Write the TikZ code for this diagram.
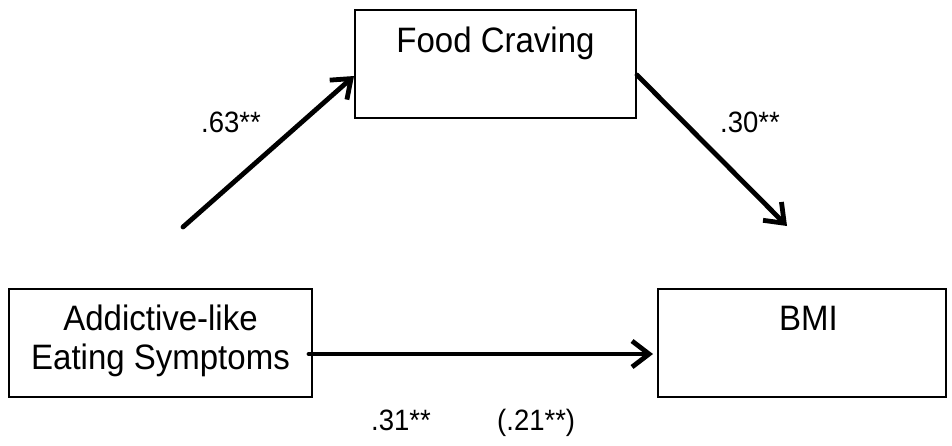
\documentclass[tikz,border=0pt]{standalone}
\usepackage{fontspec}
\setmainfont{Liberation Sans}
\usetikzlibrary{arrows.meta}
\newcommand{\tallt}[1]{\scalebox{1}[1.07]{#1}}
\begin{document}
\begin{tikzpicture}[x=1pt,y=-1pt,
  box/.style={draw, line width=1.4pt, rectangle, inner sep=0pt},
  boxtext/.style={anchor=base, inner sep=0pt, font=\fontsize{33}{39}\selectfont},
  coef/.style={anchor=base west, inner sep=0pt, font=\fontsize{27.5}{33}\selectfont},
  path arrow/.style={line width=4.8pt, line cap=round, -{Straight Barb[length=17pt, width=26pt, line width=4.8pt]}}]
\useasboundingbox (0,0) rectangle (952,445);
% boxes
\node[box, minimum width=281pt, minimum height=108pt] (food) at (495.5,64) {};
\node[box, minimum width=303pt, minimum height=108pt] (ale) at (160.5,343) {};
\node[box, minimum width=288pt, minimum height=108pt] (bmi) at (802,343) {};
% box texts
\node[boxtext] (foodt) at (495.5,52) {\tallt{Food Craving}};
\node[boxtext] (alet1) at (160.5,330) {\tallt{Addictive-like}};
\node[boxtext] (alet2) at (160.5,369) {\tallt{Eating Symptoms}};
\node[boxtext] (bmit) at (808.5,330) {\tallt{BMI}};
% connector end points
\coordinate (a1s) at (183,227);
\coordinate (a1e) at (354,76);
\coordinate (a2s) at (637,75);
\coordinate (a2e) at (787,226);
\coordinate (a3s) at (309,354);
\coordinate (a3e) at (653,354);
\draw[path arrow] (a1s) -- (a1e);
\draw[path arrow] (a2s) -- (a2e);
\draw[path arrow] (a3s) -- (a3e);
% coefficients
\node[coef] (c1) at (201,132) {\tallt{.63**}};
\node[coef] (c2) at (720,132) {\tallt{.30**}};
\node[coef] (c3) at (371,430) {\tallt{.31**}};
\node[coef] (c4) at (497,430) {\tallt{(.21**)}};
\end{tikzpicture}
\end{document}
